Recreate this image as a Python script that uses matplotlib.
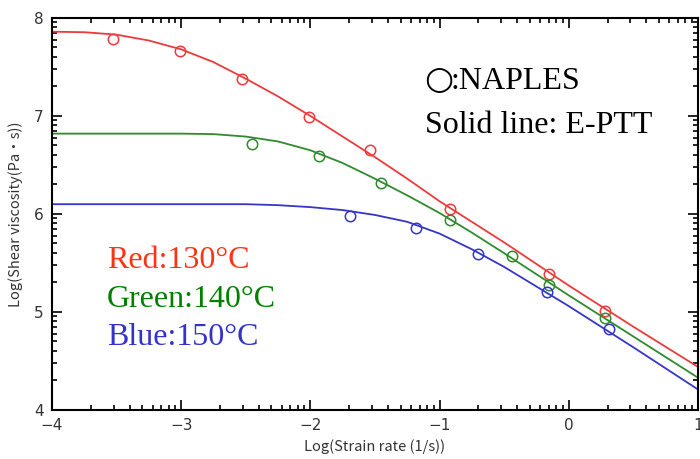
import numpy as np
import matplotlib
matplotlib.use("Agg")
import matplotlib.pyplot as plt
from matplotlib.ticker import FixedLocator

# ---- data ----
red_x = [-3.53, -3.01, -2.53, -2.01, -1.54, -0.92, -0.155, 0.283]
red_y = [7.79, 7.66, 7.38, 6.99, 6.65, 6.05, 5.39, 5.01]
green_x = [-2.45, -1.93, -1.45, -0.92, -0.44, -0.15, 0.283]
green_y = [6.71, 6.59, 6.32, 5.94, 5.57, 5.28, 4.94]
blue_x = [-1.69, -1.18, -0.70, -0.17, 0.31]
blue_y = [5.98, 5.86, 5.59, 5.20, 4.83]

red_line_x = [-4, -3.75, -3.5, -3.25, -3, -2.75, -2.5, -2.25, -2, -1.75, -1.5, -1.25,
              -1, -0.5, 0, 0.5, 1]
red_line_y = [7.86, 7.855, 7.83, 7.77, 7.68, 7.55, 7.38, 7.20, 7.00, 6.79, 6.58, 6.36,
              6.13, 5.71, 5.27, 4.85, 4.44]
green_line_x = [-4, -3, -2.75, -2.5, -2.25, -2, -1.75, -1.5, -1.25, -1, -0.75, -0.5,
                0, 0.5, 1]
green_line_y = [6.82, 6.82, 6.815, 6.79, 6.74, 6.65, 6.52, 6.36, 6.19, 6.01, 5.81, 5.60,
                5.17, 4.75, 4.33]
blue_line_x = [-4, -2.5, -2.25, -2, -1.75, -1.5, -1.25, -1, -0.75, -0.5, -0.25, 0,
               0.5, 1]
blue_line_y = [6.10, 6.10, 6.09, 6.07, 6.04, 5.99, 5.92, 5.80, 5.64, 5.46, 5.26, 5.06,
               4.64, 4.21]

x_major = [-4, -3, -2, -1, 0, 1]
y_major = [4, 5, 6, 7, 8]

RED = "#ee3a3a"
GREEN = "#2e8b2e"
BLUE = "#3535cc"

fig = plt.figure(figsize=(7.0, 4.59), dpi=100)
ax = fig.add_axes([0.0743, 0.1068, 0.9227, 0.854])

for lx, ly, c in [(red_line_x, red_line_y, RED), (green_line_x, green_line_y, GREEN),
                  (blue_line_x, blue_line_y, BLUE)]:
    ax.plot(lx, ly, color=c, lw=1.3, solid_joinstyle='round')
ms = 7.5
ax.plot(red_x, red_y, 'o', mfc='none', mec=RED, ms=ms, mew=1.1)
ax.plot(green_x, green_y, 'o', mfc='none', mec=GREEN, ms=ms, mew=1.1)
ax.plot(blue_x, blue_y, 'o', mfc='none', mec=BLUE, ms=ms, mew=1.1)

ax.set_xlim(-4, 1)
ax.set_ylim(4, 8)
ax.xaxis.set_major_locator(FixedLocator(x_major))
ax.yaxis.set_major_locator(FixedLocator(y_major))
xminor = [d + np.log10(k) for d in x_major[:-1] for k in range(2, 10)]
yminor = [d + np.log10(k) for d in y_major[:-1] for k in range(2, 10)]
ax.xaxis.set_minor_locator(FixedLocator(xminor))
ax.yaxis.set_minor_locator(FixedLocator(yminor))
ax.set_xticklabels(["\u22124", "\u22123", "\u22122", "\u22121", "0", "1"])
ax.tick_params(which='both', direction='in', top=True, right=True,
               labelsize=11, labelcolor='#333333', width=1.2)
ax.tick_params(which='major', length=7, pad=6)
ax.tick_params(which='minor', length=3.5)
for s in ax.spines.values():
    s.set_linewidth(1.5)

ax.set_xlabel("Log(Strain rate (1/s))", fontsize=10.5, color='#333333', labelpad=4,
              family=['Noto Sans CJK JP', 'DejaVu Sans'])
ax.set_ylabel("Log(Shear viscosity(Pa\u30fbs))", fontsize=10.5, color='#333333', labelpad=8,
              family=['Noto Sans CJK JP', 'DejaVu Sans'])

serif = ['Liberation Serif', 'DejaVu Serif']
fig.text(424/700, 1 - 89/459, "\u25cb", fontsize=24, color='black',
         family=['DejaVu Sans'], va='baseline')
fig.text(451/700, 1 - 89/459, ":NAPLES", fontsize=23, color='black',
         family=serif, va='baseline')
fig.text(425/700, 1 - 133/459, "Solid line: E-PTT", fontsize=23, color='black',
         family=serif, va='baseline')

fig.text(107/700, 1 - 268/459, "Red:130\u00b0C", fontsize=23, color='#ff3311',
         family=serif, va='baseline')
fig.text(107/700, 1 - 307/459, "Green:140\u00b0C", fontsize=23, color='#008000',
         family=serif, va='baseline')
fig.text(107/700, 1 - 345/459, "Blue:150\u00b0C", fontsize=23, color='#3333cc',
         family=serif, va='baseline')

fig.savefig("out.png", dpi=100)
